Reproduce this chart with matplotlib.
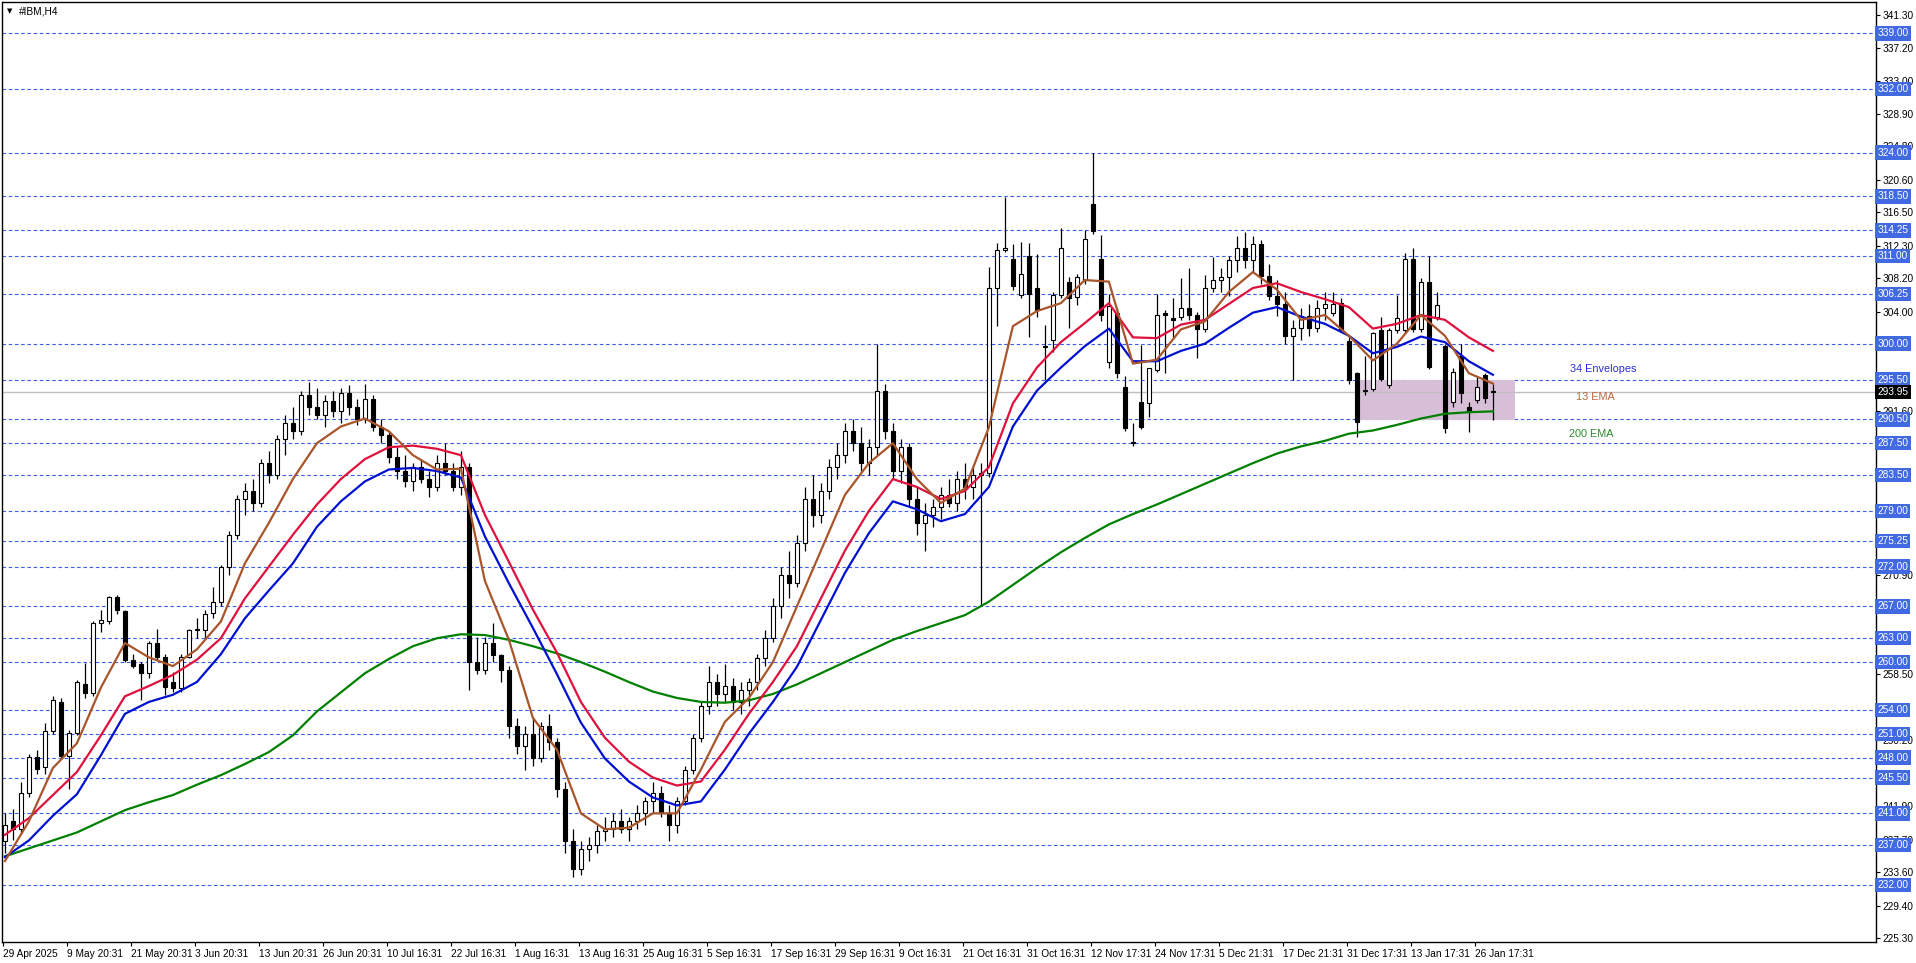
import matplotlib
matplotlib.use("Agg")
import matplotlib.pyplot as plt
from matplotlib.patches import Rectangle

# ---- daily OHLC (one candle per trading day) ----
OPEN = [237.5, 240.0, 239.0, 243.5, 248.1, 246.8, 251.3, 255.0, 248.2, 251.1,
        257.3, 256.1, 264.9, 265.2, 268.2, 266.4, 260.3, 259.8, 258.6, 262.4,
        260.7, 257.5, 256.8, 260.7, 264.0, 264.0, 266.2, 267.5, 272.0, 276.0,
        280.5, 281.5, 280.0, 285.0, 283.5, 288.0, 290.0, 289.0, 293.5, 292.0,
        291.0, 292.8, 291.5, 293.8, 292.0, 290.5, 293.0, 289.5, 288.5, 285.8,
        284.0, 282.8, 284.5, 283.0, 282.0, 285.0, 284.0, 282.0, 284.5, 260.0,
        259.0, 262.4, 260.9, 259.0, 252.0, 249.5, 251.0, 248.0, 252.0, 250.0,
        244.0, 237.5, 234.0, 236.5, 237.0, 238.8, 239.0, 240.0, 239.0, 240.0,
        241.0, 242.5, 243.5, 241.0, 239.5, 242.5, 246.5, 250.5, 254.5, 257.5,
        256.0, 257.0, 255.0, 256.5, 257.5, 260.5, 263.0, 267.0, 271.0, 270.0,
        275.0, 280.5, 278.5, 281.5, 284.5, 286.0, 289.0, 287.5, 285.0, 287.0,
        294.0, 289.0, 284.0, 287.0, 280.5, 277.5, 278.5, 279.5, 281.0, 280.0,
        283.0, 282.0, 283.5, 283.8, 307.0, 311.8, 310.7, 306.1, 311.0, 307.0,
        299.6, 300.5, 306.1, 307.8, 305.9, 308.0, 317.5, 310.6, 297.7, 303.8,
        294.6, 287.5, 292.7, 292.5, 296.7, 303.8, 303.2, 303.4, 304.5, 303.6,
        301.9, 307.0, 308.0, 308.4, 310.5, 312.0, 310.5, 312.5, 308.5, 306.0,
        305.0, 301.0, 302.0, 303.5, 302.0, 304.5, 303.8, 305.1, 300.3, 296.3,
        294.0, 294.3, 301.7, 294.8, 301.7, 301.7, 310.7, 301.9, 307.8, 303.4,
        299.7, 292.7, 298.4, 292.0, 292.9, 296.1, 293.9]
HIGH = [241.0, 241.6, 244.9, 248.4, 249.0, 252.3, 255.7, 255.5, 251.5, 257.8,
        259.9, 265.2, 266.6, 268.3, 268.4, 266.6, 261.0, 260.0, 262.6, 264.2,
        261.0, 258.8, 261.0, 264.2, 265.5, 266.6, 269.5, 272.2, 276.5, 281.0,
        282.5, 283.0, 285.5, 286.5, 288.5, 291.0, 292.0, 294.0, 295.2, 294.5,
        293.5, 294.0, 294.5, 294.8, 293.0, 295.0, 293.5, 290.5, 289.0, 287.0,
        286.0, 285.0, 285.5, 284.0, 286.0, 287.5, 285.0, 286.5, 285.0, 263.2,
        263.2, 264.9, 261.0, 259.5, 253.0, 252.0, 253.0, 252.5, 253.5, 250.5,
        245.0, 239.0, 237.5, 238.0, 239.5, 240.5, 241.0, 241.5, 240.5, 242.0,
        243.0, 245.0, 244.5, 242.0, 243.0, 247.0, 251.0, 255.0, 259.5, 258.5,
        259.8, 258.0, 257.5, 258.0, 261.0, 264.0, 268.0, 272.0, 274.0, 276.0,
        282.0, 283.5, 282.5, 285.5, 287.5, 290.0, 290.5, 289.5, 288.0, 300.0,
        295.0, 290.0, 288.0, 287.5, 282.0, 280.0, 280.5, 282.0, 283.0, 284.0,
        285.0, 284.5, 285.0, 309.7, 312.6, 318.4, 312.5, 312.8, 312.6, 311.3,
        302.4, 306.5, 314.6, 308.4, 308.8, 314.3, 323.9, 313.7, 306.3, 304.5,
        295.9, 290.0, 299.8, 297.0, 306.3, 304.2, 305.7, 308.2, 309.5, 304.0,
        308.6, 310.9, 309.5, 311.0, 313.5, 314.0, 313.5, 313.0, 310.0, 308.0,
        306.5, 303.0, 304.5, 305.0, 305.5, 306.5, 306.5, 305.8, 301.0, 296.5,
        298.4, 301.5, 303.4, 302.0, 306.1, 311.4, 312.0, 308.2, 311.0, 306.5,
        300.0, 297.0, 300.0, 292.7, 296.0, 296.3, 295.0]
LOW = [236.0, 237.6, 238.5, 243.0, 246.0, 246.0, 251.0, 247.8, 244.0, 250.8,
       255.5, 255.8, 263.8, 264.8, 266.0, 260.0, 259.2, 255.2, 258.0, 260.3,
       255.9, 256.3, 256.2, 260.5, 263.0, 263.0, 265.5, 267.0, 271.0, 275.5,
       278.5, 279.0, 279.5, 282.5, 283.0, 286.0, 288.0, 288.5, 291.0, 290.5,
       289.5, 290.8, 290.0, 291.0, 289.8, 290.0, 289.0, 287.5, 285.0, 283.0,
       282.0, 281.5, 282.5, 280.8, 281.5, 283.5, 281.5, 281.0, 256.5, 258.5,
       258.5, 260.0, 257.5, 250.5, 248.5, 246.5, 247.0, 247.5, 249.0, 243.0,
       236.0, 233.0, 233.2, 235.0, 236.0, 237.5, 238.0, 238.5, 237.5, 239.0,
       239.5, 241.0, 240.5, 237.5, 238.5, 242.0, 246.0, 250.0, 253.5, 254.5,
       255.0, 254.0, 253.5, 254.5, 256.5, 259.5, 262.5, 265.5, 268.0, 269.5,
       274.0, 277.0, 277.5, 280.5, 283.0, 285.0, 286.5, 284.0, 283.5, 286.0,
       288.0, 283.0, 282.5, 279.5, 276.0, 274.0, 277.0, 278.0, 279.5, 279.0,
       280.5, 280.5, 267.0, 283.3, 302.2, 311.5, 306.8, 305.8, 300.9, 303.4,
       295.5, 299.0, 305.8, 302.0, 304.9, 307.5, 313.8, 302.8, 296.9, 295.7,
       289.0, 287.2, 289.3, 290.8, 296.5, 296.3, 300.9, 303.0, 303.0, 298.2,
       301.5, 306.5, 306.5, 306.0, 309.0, 309.5, 309.0, 307.5, 305.5, 303.5,
       300.0, 295.5, 300.5, 301.0, 301.5, 303.0, 303.5, 301.5, 295.0, 288.3,
       293.5, 294.0, 295.3, 294.5, 301.3, 301.3, 301.5, 301.5, 296.8, 303.0,
       288.8, 292.0, 292.6, 288.9, 292.5, 292.5, 290.4]
CLOSE = [239.5, 239.0, 243.5, 248.1, 246.6, 251.3, 255.2, 248.2, 251.1, 257.5,
         256.1, 264.9, 265.3, 268.2, 266.5, 260.3, 259.5, 258.6, 262.4, 260.7,
         256.9, 256.8, 260.7, 264.0, 264.0, 266.1, 267.6, 272.0, 276.0, 280.5,
         281.5, 280.0, 285.0, 283.5, 288.0, 290.0, 289.0, 293.5, 292.0, 291.0,
         292.8, 291.5, 293.8, 292.0, 290.5, 293.0, 289.5, 288.5, 285.8, 284.0,
         282.8, 284.5, 283.0, 282.0, 285.0, 284.0, 282.0, 284.5, 260.0, 259.0,
         262.4, 260.9, 259.0, 252.0, 249.5, 251.0, 248.0, 252.0, 250.0, 244.0,
         237.5, 234.0, 236.5, 237.0, 238.8, 239.0, 240.0, 239.0, 240.0, 241.0,
         242.5, 243.5, 241.0, 239.5, 242.5, 246.5, 250.5, 254.5, 257.5, 256.0,
         257.0, 255.0, 256.5, 257.5, 260.5, 263.0, 267.0, 271.0, 270.0, 275.0,
         280.5, 278.5, 281.5, 284.5, 286.0, 289.0, 287.5, 285.0, 287.0, 294.0,
         289.0, 284.0, 287.0, 280.5, 277.5, 278.5, 279.5, 281.0, 280.0, 283.0,
         282.0, 283.5, 283.8, 307.0, 311.8, 312.0, 307.2, 308.8, 306.3, 304.2,
         299.6, 306.1, 312.0, 305.7, 308.4, 313.2, 314.1, 303.6, 304.7, 296.3,
         289.4, 287.5, 289.6, 296.9, 303.6, 303.6, 303.0, 304.5, 303.6, 301.9,
         307.0, 308.0, 308.4, 310.5, 312.0, 310.5, 312.5, 308.5, 306.0, 305.0,
         301.0, 302.0, 303.5, 302.0, 304.5, 305.0, 305.0, 301.7, 295.4, 290.2,
         294.2, 301.3, 295.6, 301.7, 303.2, 310.7, 301.9, 307.8, 297.1, 304.9,
         289.4, 296.5, 293.8, 291.6, 294.6, 293.2, 293.95]

# ---- indicator lines, sampled every 3 days ----
LINE_DAYS = list(range(0, 187, 3))
EMA13 = [235.0, 240.0, 246.7, 249.8, 256.8, 262.4, 260.6, 259.5, 261.6, 265.1,
         272.4, 277.5, 283.0, 287.5, 289.6, 290.6, 289.0, 286.0, 284.2, 284.3,
         270.2, 262.8, 253.0, 249.0, 241.0, 239.0, 239.2, 241.0, 241.0, 246.5,
         252.5, 255.5, 260.0, 267.0, 274.0, 281.0, 285.0, 287.5, 283.0, 280.0,
         281.8, 289.5, 302.2, 304.1, 305.1, 308.0, 307.8, 297.5, 298.0, 301.8,
         302.8, 306.5, 309.0, 306.8, 303.0, 303.6, 301.0, 297.9, 300.0, 303.6,
         301.0, 296.3, 295.0]
ENV_UP = [238.3, 240.4, 243.3, 246.2, 250.8, 255.7, 257.0, 258.4, 260.3, 263.0,
          268.0, 272.0, 276.0, 279.8, 283.0, 285.5, 287.0, 287.2, 286.8, 286.0,
          278.5, 272.6, 266.6, 261.2, 255.0, 250.5, 247.5, 245.5, 244.5, 245.0,
          249.0, 253.5, 257.5, 262.0, 268.0, 274.0, 279.0, 283.0, 282.0, 280.5,
          281.5, 284.5, 292.5, 297.0, 300.2, 302.6, 305.1, 300.8, 300.7, 302.4,
          303.0, 305.0, 307.0, 307.6, 306.5, 305.6, 304.6, 301.9, 302.5, 303.6,
          303.0, 300.8, 299.1]
ENV_LOW = [235.5, 237.6, 240.7, 243.4, 248.3, 253.5, 255.0, 255.9, 257.5, 261.0,
           265.5, 269.0, 272.4, 277.0, 280.2, 282.7, 284.2, 284.4, 284.0, 283.2,
           275.8, 269.9, 264.3, 258.5, 252.4, 247.9, 245.0, 243.0, 242.0, 242.5,
           246.5, 251.0, 255.0, 259.4, 265.3, 271.2, 276.2, 280.2, 279.2, 277.7,
           278.6, 282.0, 289.6, 294.1, 297.0, 299.7, 301.9, 297.8, 297.8, 299.1,
           300.0, 302.0, 303.9, 304.6, 303.4, 302.5, 301.0, 298.8, 299.6, 300.9,
           300.2, 297.8, 296.1]
EMA200 = [235.6, 236.6, 237.6, 238.6, 240.0, 241.4, 242.4, 243.3, 244.6, 245.8,
          247.2, 248.7, 250.8, 253.8, 256.2, 258.6, 260.4, 262.0, 263.0, 263.5,
          263.4, 262.8, 262.0, 261.1, 260.0, 258.8, 257.5, 256.3, 255.5, 255.0,
          254.9, 255.2, 256.0, 257.2, 258.6, 260.0, 261.4, 262.8, 263.9, 264.9,
          265.9, 267.6, 269.7, 271.8, 273.8, 275.6, 277.3, 278.6, 279.8, 281.1,
          282.4, 283.7, 285.0, 286.2, 287.1, 287.8, 288.7, 289.1, 289.8, 290.6,
          291.2, 291.4, 291.5]

LEVELS = [339.00, 332.00, 324.00, 318.50, 314.25, 311.00, 306.25, 300.00,
          295.50, 290.50, 287.50, 283.50, 279.00, 275.25, 272.00, 267.00,
          263.00, 260.00, 254.00, 251.00, 248.00, 245.50, 241.00, 237.00, 232.00]
PRICE_TICKS = [225.30, 229.40, 233.60, 237.70, 241.90, 246.00, 250.20, 254.30,
               258.50, 262.60, 266.80, 270.90, 275.10, 279.20, 283.40, 287.50,
               291.60, 295.80, 299.90, 304.00, 308.20, 312.30, 316.50, 320.60,
               324.80, 328.90, 333.00, 337.20, 341.30]
# tick labels that sit fully under a level box in the reference
HIDDEN_TICKS = [246.00, 254.30, 262.60, 266.80, 275.10, 279.20, 283.40,
                287.50, 295.80, 299.90]
LAST_PRICE = 293.95
TIME_LABELS = ["29 Apr 2025", "9 May 20:31", "21 May 20:31", "3 Jun 20:31",
               "13 Jun 20:31", "26 Jun 20:31", "10 Jul 16:31", "22 Jul 16:31",
               "1 Aug 16:31", "13 Aug 16:31", "25 Aug 16:31", "5 Sep 16:31",
               "17 Sep 16:31", "29 Sep 16:31", "9 Oct 16:31", "21 Oct 16:31",
               "31 Oct 16:31", "12 Nov 17:31", "24 Nov 17:31", "5 Dec 21:31",
               "17 Dec 21:31", "31 Dec 17:31", "13 Jan 17:31", "26 Jan 17:31"]
ZONE = (169.3, 188.8, 290.45, 295.45)   # day from, day to, price low, price high

plt.rcParams["font.family"] = ["Liberation Sans", "DejaVu Sans"]
FS = 7.3

fig = plt.figure(figsize=(19.16, 9.63), dpi=100)
ax = fig.add_axes([1.7 / 1916, 21 / 963, 1873.9 / 1916, 940 / 963])
ax.set_xlim(-0.4, 233.84)
ax.set_ylim(224.84, 342.93)

# support / resistance levels
for lv in LEVELS:
    ax.axhline(lv, color="#3b5de7", lw=0.8, ls=(0, (3.2, 2.4)), zorder=1)
ax.axhline(LAST_PRICE, color="#c0c0c0", lw=1.0, zorder=1.2)

# highlighted zone
x0, x1, y0, y1 = ZONE
ax.add_patch(Rectangle((x0, y0), x1 - x0, y1 - y0, facecolor="#d8bfd8",
                       edgecolor="none", zorder=1.1))

# candles
days = list(range(len(CLOSE)))
ax.vlines(days, LOW, HIGH, color="black", lw=0.9, zorder=3)
for d, o, c in zip(days, OPEN, CLOSE):
    lo, hi = min(o, c), max(o, c)
    h = max(hi - lo, 0.12)
    fc = "white" if c >= o else "black"
    ax.bar(d, h, bottom=lo, width=0.58, color=fc, edgecolor="black",
           linewidth=0.8, zorder=3.5)

# indicators
ax.plot(LINE_DAYS, EMA200, color="#008000", lw=1.6, zorder=4)
ax.plot(LINE_DAYS, ENV_UP, color="#e0103c", lw=1.6, zorder=4)
ax.plot(LINE_DAYS, ENV_LOW, color="#0010d0", lw=1.6, zorder=4)
ax.plot(LINE_DAYS, EMA13, color="#a8552b", lw=1.6, zorder=4.2)

ax.text(199.8, 296.8, "34 Envelopes", color="#2b2bdd", fontsize=7.8,
        ha="center", va="center")
ax.text(198.8, 293.3, "13 EMA", color="#c0653a", fontsize=7.8,
        ha="center", va="center")
ax.text(198.3, 288.7, "200 EMA", color="#2e8b2e", fontsize=7.8,
        ha="center", va="center")

# symbol title
ax.text(0.0028, 0.9935, "\u25bc", transform=ax.transAxes, fontsize=5,
        ha="left", va="top", family="DejaVu Sans")
ax.text(0.0093, 0.995, "#IBM,H4", transform=ax.transAxes, fontsize=FS,
        ha="left", va="top")

# price scale on the right
ax.yaxis.tick_right()
ax.set_yticks(PRICE_TICKS)
ax.set_yticklabels(["" if p in HIDDEN_TICKS else f"{p:.2f}"
                    for p in PRICE_TICKS])
ax.tick_params(axis="y", direction="out", length=3, width=0.8, pad=2,
               labelsize=FS, colors="black")
ytr = ax.get_yaxis_transform()
for lv in LEVELS:
    ax.text(1.0009, lv, f"{lv:.2f}", transform=ytr, fontsize=FS, color="white",
            ha="left", va="center", clip_on=False, zorder=10,
            bbox=dict(boxstyle="square,pad=0.22", fc="#4169e1", ec="none"))
ax.text(1.0009, LAST_PRICE, f"{LAST_PRICE:.2f}", transform=ytr, fontsize=FS,
        color="white", ha="left", va="center", clip_on=False, zorder=11,
        bbox=dict(boxstyle="square,pad=0.22", fc="black", ec="none"))

# time scale
ax.set_xticks([8 * k - 0.25 for k in range(len(TIME_LABELS))])
ax.set_xticklabels(TIME_LABELS, ha="left")
ax.tick_params(axis="x", direction="out", length=3, width=0.8, pad=2,
               labelsize=FS)

for sp in ax.spines.values():
    sp.set_color("black")
    sp.set_linewidth(1.0)

fig.savefig("out.png", dpi=100)
